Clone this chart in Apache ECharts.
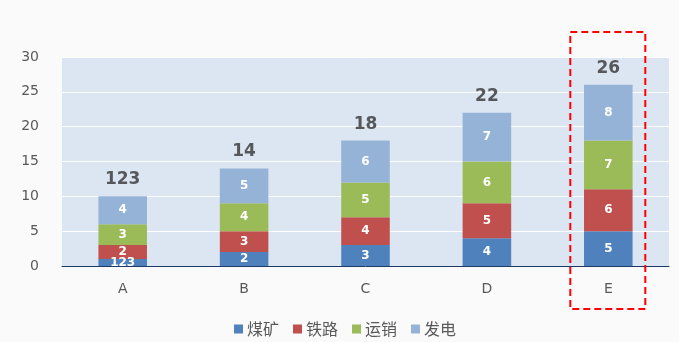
<!DOCTYPE html>
<html><head><meta charset="utf-8">
<script src="https://cdn.jsdelivr.net/npm/echarts@6/dist/echarts.min.js"></script>
<style>html,body{margin:0;padding:0;background:#fafafa}#c{width:679px;height:342px}</style>
</head><body><div id="c"></div>
<script>
const categories = ['A','B','C','D','E'];
const coal = [1,2,3,4,5];
const rail = [2,3,4,5,6];
const sales = [3,4,5,6,7];
const power = [4,5,6,7,8];
const totals = [10,14,18,22,26];
const totalLabels = ['123','14','18','22','26'];
const coalLabels = ['123','2','3','4','5'];
const highlightCategory = 'E';

const chart = echarts.init(document.getElementById('c'));
const font = 'DejaVu Sans, Verdana, sans-serif';
const segLabel = {show:true, position:'inside', color:'#fff', fontWeight:'bold', fontSize:12, fontFamily:font};
function seg(name, data, color, fmt){
  return {name, type:'bar', stack:'s', data, barWidth:'40%', itemStyle:{color},
    label: Object.assign({}, segLabel, fmt ? {formatter: fmt} : {})};
}
chart.setOption({
  backgroundColor:'#fafafa',
  animation:false,
  grid:{left:62, right:10, top:57, bottom:76, show:true, backgroundColor:'#dce6f2', borderWidth:0},
  legend:{bottom:5, left:234, itemWidth:9, itemHeight:9, itemGap:14, icon:'rect', padding:0,
    textStyle:{color:'#595959', fontSize:16, fontFamily:'Noto Sans CJK SC, sans-serif', padding:[0,0,0,-1]},
    data:['煤矿','铁路','运销','发电']},
  xAxis:{type:'category', data:categories,
    axisLine:{lineStyle:{color:'#1f3864', width:1}}, axisTick:{show:false},
    axisLabel:{color:'#595959', fontSize:14, fontFamily:font, margin:16}},
  yAxis:{type:'value', min:0, max:30, interval:5,
    axisLine:{show:false}, axisTick:{show:false},
    splitLine:{lineStyle:{color:'#ffffff', width:1}},
    axisLabel:{color:'#595959', fontSize:14, fontFamily:font, margin:23}},
  series:[
    seg('煤矿', coal, '#4f81bd', p => coalLabels[p.dataIndex]),
    seg('铁路', rail, '#c0504d'),
    seg('运销', sales, '#9bbb59'),
    seg('发电', power, '#95b3d7'),
    {name:'total', type:'scatter', data:totals, symbolSize:0, silent:true, z:10,
      label:{show:true, position:'top', distance:8, color:'#333333', fontWeight:'bold', fontSize:17, fontFamily:font,
        textBorderWidth:0, formatter:p => totalLabels[p.dataIndex]}}
  ]
});
const cx = chart.convertToPixel({xAxisIndex:0}, highlightCategory);
const yTop = chart.convertToPixel({yAxisIndex:0}, 30);
const yBot = chart.convertToPixel({yAxisIndex:0}, 0);
chart.setOption({graphic:[{type:'rect', shape:{x:cx-38, y:yTop-25, width:75, height:(yBot-yTop)+68},
  style:{fill:'none', stroke:'#ff0000', lineWidth:2, lineDash:[7,4]}, z:100}]});
</script></body></html>
